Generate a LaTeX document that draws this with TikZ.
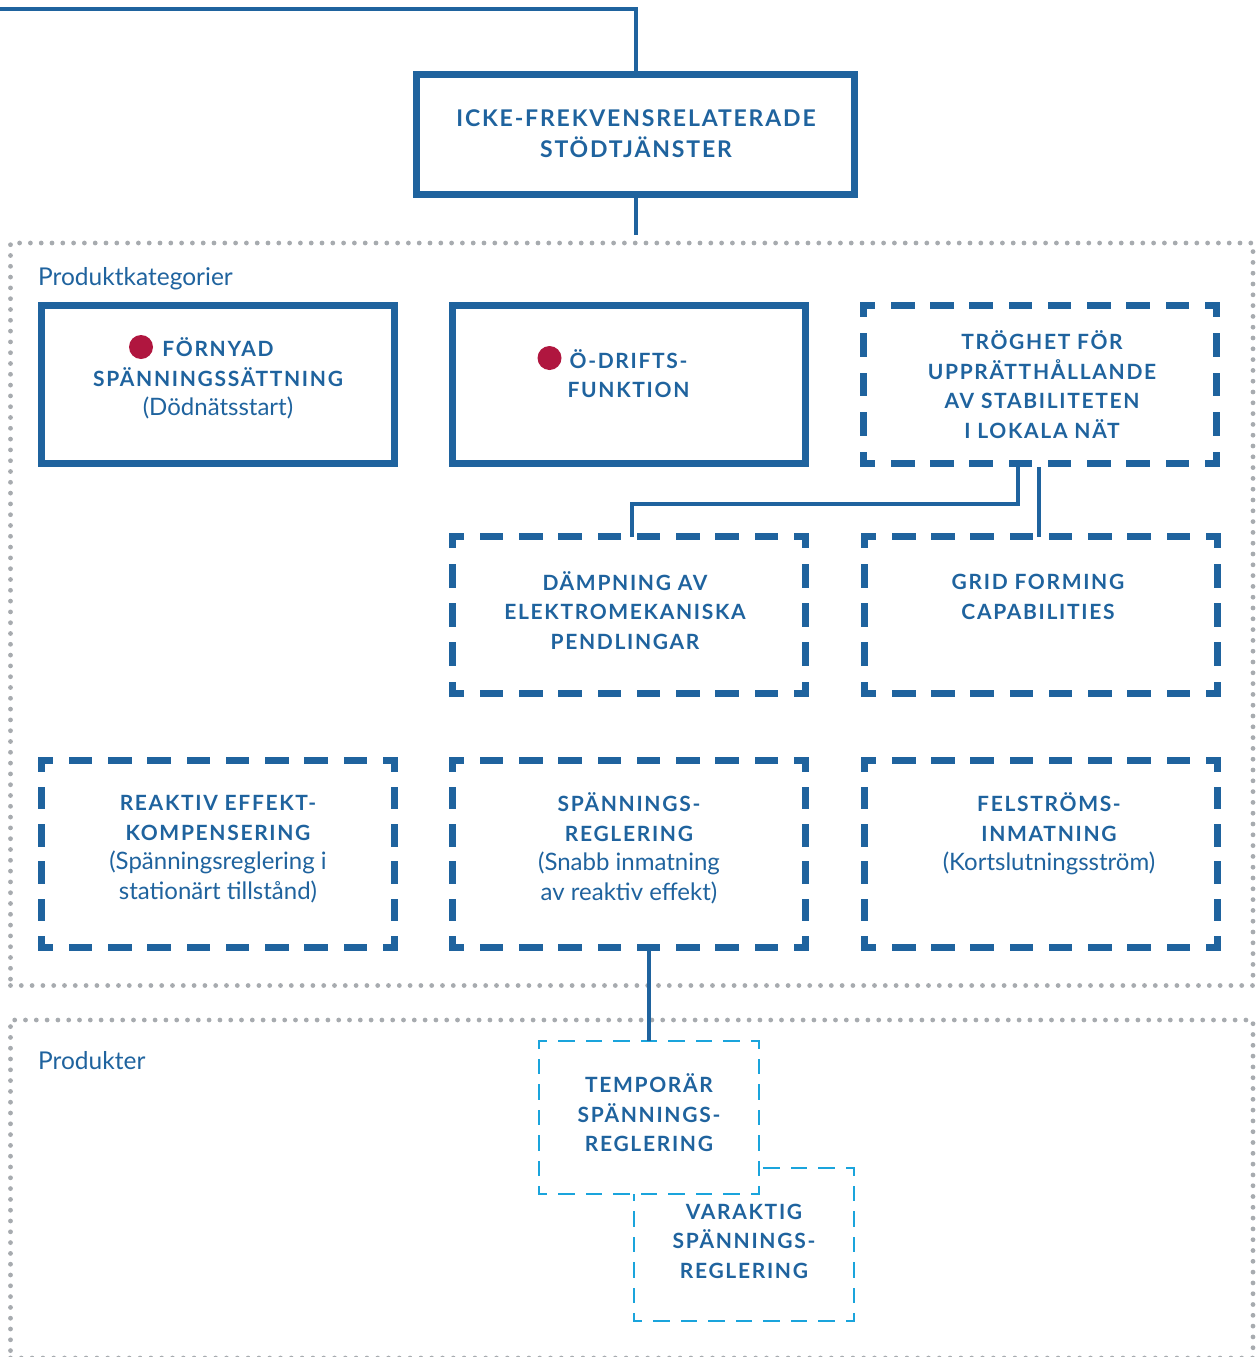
\documentclass[tikz,border=0pt]{standalone}
\usepackage{fontspec}
\setmainfont{Lato}
\newfontfamily\spacedfont{Lato}[LetterSpace=8]
\usetikzlibrary{calc}

\definecolor{skblue}{HTML}{1F639E}
\definecolor{skred}{HTML}{B0163F}
\definecolor{sklight}{HTML}{1AA4DC}
\definecolor{dotgray}{HTML}{A7ABAF}

% bold, letter-spaced capitals
\newcommand\capline[1]{{\spacedfont\bfseries\fontsize{21}{29.5}\selectfont #1}}

\tikzset{
  % dash pattern fitted to a side: length / wanted period / line width,
  % so that every side starts and ends with half a dash (L-shaped corners)
  dashfit/.code args={#1/#2/#3}{%
    \pgfmathsetmacro\dfn{max(1,round(#1/#2))}%
    \pgfmathsetmacro\dfp{#1/\dfn}%
    \pgfmathsetmacro\dfon{0.6*\dfp-#3}%
    \pgfmathsetmacro\dfoff{0.4*\dfp+#3}%
    \pgfmathsetmacro\dfph{\dfon/2}%
    \tikzset{dash pattern=on \dfon pt off \dfoff pt, dash phase=\dfph pt}%
  },
  conn/.style={draw=skblue, line width=4pt},
  region/.style={rectangle, inner sep=0pt, outer sep=0pt, draw=dotgray,
    line width=4.8pt, line cap=round, dash pattern=on 0pt off 10.8pt},
  frame/.style={rectangle, inner sep=0pt, outer sep=0pt},
  solidframe/.style={frame, draw=skblue, line width=7pt},
  label/.style={text=skblue, align=center, inner sep=0pt,
    font=\fontsize{24}{29.5}\selectfont,
    execute at begin node=\strut, execute at end node=\strut},
  heading/.style={text=skblue, anchor=base west, inner sep=0pt,
    font=\fontsize{24.5}{28}\selectfont},
  marker/.style={circle, fill=skred, inner sep=0pt, minimum size=24pt},
}

% four sides of a dashed frame around a node:
% node, horizontal length, vertical length, period, line width, colour
\newcommand\fitframe[6]{%
  \draw[draw=#6, line width=#5pt, line cap=rect, dashfit=#2/#4/#5] (#1.north west) -- (#1.north east);
  \draw[draw=#6, line width=#5pt, line cap=rect, dashfit=#2/#4/#5] (#1.south west) -- (#1.south east);
  \draw[draw=#6, line width=#5pt, line cap=rect, dashfit=#3/#4/#5] (#1.north west) -- (#1.south west);
  \draw[draw=#6, line width=#5pt, line cap=rect, dashfit=#3/#4/#5] (#1.north east) -- (#1.south east);
}

\begin{document}
\begin{tikzpicture}[x=1pt, y=-1pt]
\useasboundingbox (0,0) rectangle (1258,1357);

% dotted regions
\node[region, minimum width=1242.5pt, minimum height=742.5pt] (cats) at (631.75,614.25) {};
\node[region, minimum width=1242.5pt, minimum height=338pt] (prods) at (631.75,1189) {};
\node[heading] (catslabel) at (38,285) {Produktkategorier};
\node[heading] (prodslabel) at (38,1069) {Produkter};

% top-level service
\coordinate (feed) at (0,9);
\node[solidframe, minimum width=438pt, minimum height=120pt] (main) at (635.5,134.5) {};
\node[label, font=\spacedfont\bfseries\fontsize{23}{31}\selectfont] (maintext) at (636,138)
  {ICKE-FREKVENSRELATERADE\\STÖDTJÄNSTER};
\coordinate (mainfoot) at (635.5,235);
\draw[conn] (feed) -| (main.north);
\draw[conn] (main.south) -- (mainfoot);

% product categories, first row
\node[solidframe, minimum width=353pt, minimum height=158pt] (fornyad) at (218,384.5) {};
\node[marker] (fornyaddot) at (141,347) {};
\node[label] (fornyadtext) at (218,381)
  {\capline{FÖRNYAD}\\\capline{SPÄNNINGSSÄTTNING}\\(Dödnätsstart)};

\node[solidframe, minimum width=353pt, minimum height=158pt] (odrift) at (629,384.5) {};
\node[marker] (odriftdot) at (549.5,358) {};
\node[label] (odrifttext) at (628.5,378)
  {\capline{Ö-DRIFTS-}\\\capline{FUNKTION}};

\node[frame, minimum width=353pt, minimum height=158pt] (trog) at (1040,384.5) {};
\fitframe{trog}{353}{158}{39.3}{7}{skblue}
\node[label] (trogtext) at (1042,389)
  {\capline{TRÖGHET FÖR}\\\capline{UPPRÄTTHÅLLANDE}\\\capline{AV STABILITETEN}\\\capline{I LOKALA NÄT}};

% second row
\node[frame, minimum width=353pt, minimum height=157pt] (damp) at (629,615) {};
\fitframe{damp}{353}{157}{39.3}{7}{skblue}
\node[label] (damptext) at (625,614.5)
  {\capline{DÄMPNING AV}\\\capline{ELEKTROMEKANISKA}\\\capline{PENDLINGAR}};

\node[frame, minimum width=353pt, minimum height=157pt] (grid) at (1041,615) {};
\fitframe{grid}{353}{157}{39.3}{7}{skblue}
\node[label] (gridtext) at (1038,601)
  {\capline{GRID FORMING}\\\capline{CAPABILITIES}};

\draw[conn] ([xshift=-22.5pt]trog.south) -- ++(0,40.5) -| ([xshift=3pt]damp.north);
\draw[conn, shorten <=3.5pt] ([xshift=-1pt]trog.south) -- ([xshift=-2pt]grid.north);

% third row
\node[frame, minimum width=353pt, minimum height=187pt] (reaktiv) at (218,854) {};
\fitframe{reaktiv}{353}{187}{39.3}{7}{skblue}
\node[label] (reaktivtext) at (218,852)
  {\capline{REAKTIV EFFEKT-}\\\capline{KOMPENSERING}\\(Spänningsreglering i\\stationärt tillstånd)};

\node[frame, minimum width=353pt, minimum height=187pt] (spanreg) at (629,854) {};
\fitframe{spanreg}{353}{187}{39.3}{7}{skblue}
\node[label] (spanregtext) at (629,851)
  {\capline{SPÄNNINGS-}\\\capline{REGLERING}\\(Snabb inmatning\\av reaktiv effekt)};

\node[frame, minimum width=353pt, minimum height=187pt] (felstrom) at (1041,854) {};
\fitframe{felstrom}{353}{187}{39.3}{7}{skblue}
\node[label] (felstromtext) at (1049,836)
  {\capline{FELSTRÖMS-}\\\capline{INMATNING}\\(Kortslutningsström)};

% products
\node[frame, minimum width=220pt, minimum height=153pt] (varaktig) at (744,1244.5) {};
\fitframe{varaktig}{220}{153}{26}{2}{sklight}
\node[label] (varaktigtext) at (744,1245.5)
  {\capline{VARAKTIG}\\\capline{SPÄNNINGS-}\\\capline{REGLERING}};

\node[frame, fill=white, minimum width=220pt, minimum height=153pt] (temporar) at (649,1117.5) {};
\fitframe{temporar}{220}{153}{26}{2}{sklight}
\node[label] (temporartext) at (649,1117)
  {\capline{TEMPORÄR}\\\capline{SPÄNNINGS-}\\\capline{REGLERING}};

\draw[conn] (temporar.north |- spanreg.south) -- (temporar.north);

\end{tikzpicture}
\end{document}
